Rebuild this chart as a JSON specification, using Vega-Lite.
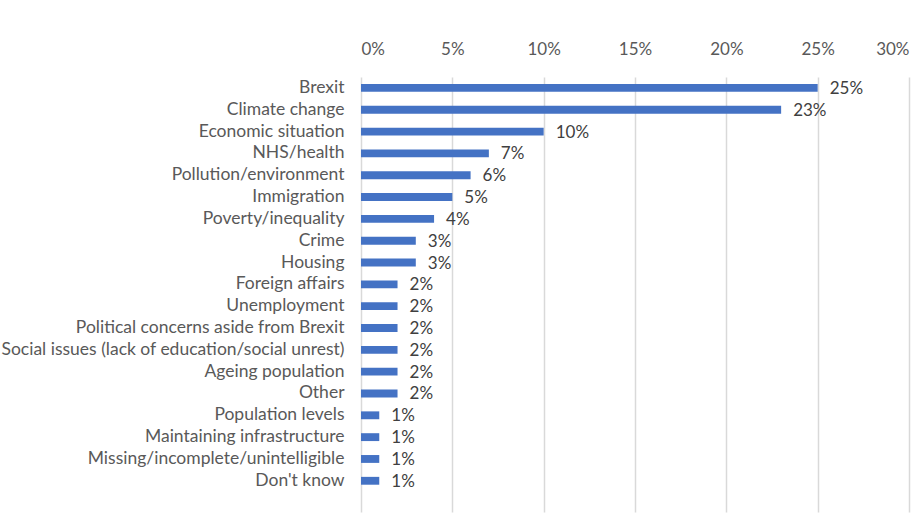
{
  "$schema": "https://vega.github.io/schema/vega-lite/v6.json",
  "width": 548,
  "height": 435,
  "autosize": {"type": "none"},
  "padding": {"left": 361, "top": 77, "right": 15, "bottom": 7},
  "background": "white",
  "config": {
    "view": {"stroke": null},
    "font": "Lato"
  },
  "data": {
    "values": [
      {"issue": "Brexit", "share": 0.25},
      {"issue": "Climate change", "share": 0.23},
      {"issue": "Economic situation", "share": 0.10},
      {"issue": "NHS/health", "share": 0.07},
      {"issue": "Pollution/environment", "share": 0.06},
      {"issue": "Immigration", "share": 0.05},
      {"issue": "Poverty/inequality", "share": 0.04},
      {"issue": "Crime", "share": 0.03},
      {"issue": "Housing", "share": 0.03},
      {"issue": "Foreign affairs", "share": 0.02},
      {"issue": "Unemployment", "share": 0.02},
      {"issue": "Political concerns aside from Brexit", "share": 0.02},
      {"issue": "Social issues (lack of education/social unrest)", "share": 0.02},
      {"issue": "Ageing population", "share": 0.02},
      {"issue": "Other\u00a0", "share": 0.02},
      {"issue": "Population levels", "share": 0.01},
      {"issue": "Maintaining infrastructure", "share": 0.01},
      {"issue": "Missing/incomplete/unintelligible", "share": 0.01},
      {"issue": "Don't know\u00a0", "share": 0.01}
    ]
  },
  "encoding": {
    "y": {
      "field": "issue",
      "type": "nominal",
      "sort": null,
      "scale": {"paddingInner": 0, "paddingOuter": 0.465, "align": 0},
      "axis": {
        "title": null,
        "domain": false,
        "ticks": false,
        "labelPadding": 17,
        "labelFontSize": 17.5,
        "labelColor": "#595959",
        "labelFont": "Lato",
        "labelLimit": 400
      }
    },
    "x": {
      "field": "share",
      "type": "quantitative",
      "scale": {"domain": [0, 0.3], "nice": false},
      "axis": {
        "orient": "top",
        "title": null,
        "format": ".0%",
        "values": [0, 0.05, 0.1, 0.15, 0.2, 0.25, 0.3],
        "domain": false,
        "ticks": false,
        "labelPadding": 19,
        "labelFontSize": 17,
        "labelColor": "#595959",
        "labelFont": "Lato",
        "grid": true,
        "gridColor": "#d9d9d9",
        "gridWidth": 1.5
      }
    }
  },
  "layer": [
    {
      "mark": {"type": "bar", "color": "#4472c4", "height": {"band": 0.36}}
    },
    {
      "mark": {
        "type": "text",
        "align": "left",
        "baseline": "middle",
        "dx": 12,
        "dy": 1,
        "fontSize": 17,
        "font": "Lato",
        "color": "#404040"
      },
      "encoding": {
        "text": {"field": "share", "type": "quantitative", "format": ".0%"}
      }
    }
  ]
}
